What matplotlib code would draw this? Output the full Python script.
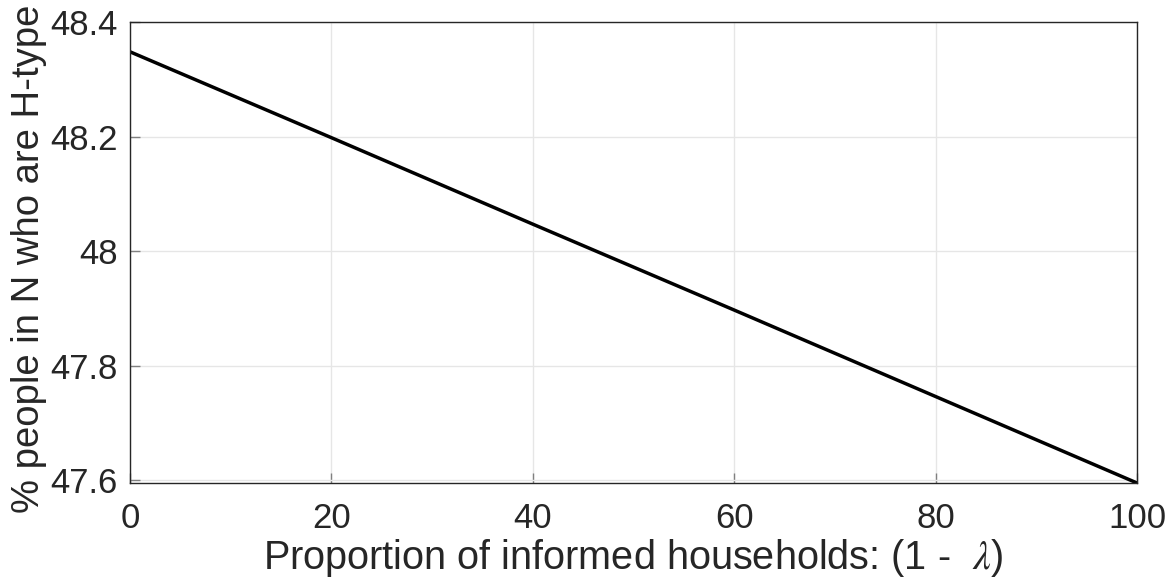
import matplotlib
matplotlib.use("Agg")
import matplotlib.pyplot as plt

# Share of informed households (%) and resulting share of H-type people in N (%)
informed_share = [0, 20, 40, 60, 80, 100]
h_type_pct = [48.348, 48.198, 48.047, 47.897, 47.746, 47.595]

x_ticks = [0, 20, 40, 60, 80, 100]
y_ticks = [47.6, 47.8, 48.0, 48.2, 48.4]
y_tick_labels = ["47.6", "47.8", "48", "48.2", "48.4"]

plt.rcParams["font.family"] = ["Liberation Sans", "DejaVu Sans"]
plt.rcParams["mathtext.fontset"] = "stix"

fig = plt.figure(figsize=(11.75, 5.83), dpi=100)
ax = fig.add_axes([0.1106, 0.1715, 0.8571, 0.7908])

ax.plot(informed_share, h_type_pct, color="black", linewidth=2.5, solid_capstyle="butt")

ax.set_xlim(0, 100)
ax.set_ylim(min(h_type_pct), 48.4)
ax.set_xticks(x_ticks)
ax.set_yticks(y_ticks)
ax.set_yticklabels(y_tick_labels)

ax.grid(True, color="#e6e6e6", linewidth=1)
ax.set_axisbelow(True)
for s in ax.spines.values():
    s.set_color("#262626")
    s.set_linewidth(1)
ax.tick_params(direction="in", length=7, width=1, color="#808080",
               labelsize=25, labelcolor="#262626", top=False, right=False)
ax.tick_params(axis="y", pad=9)
ax.tick_params(axis="x", pad=14)

ax.set_xlabel(r"Proportion of informed households: (1 -  $\lambda$)", fontsize=28.5,
              color="#262626", labelpad=1)
ax.set_ylabel("% people in N who are H-type", fontsize=27.5, color="#262626")
ax.yaxis.set_label_coords(-0.082, 0.486)

fig.savefig("out.png", dpi=100)
